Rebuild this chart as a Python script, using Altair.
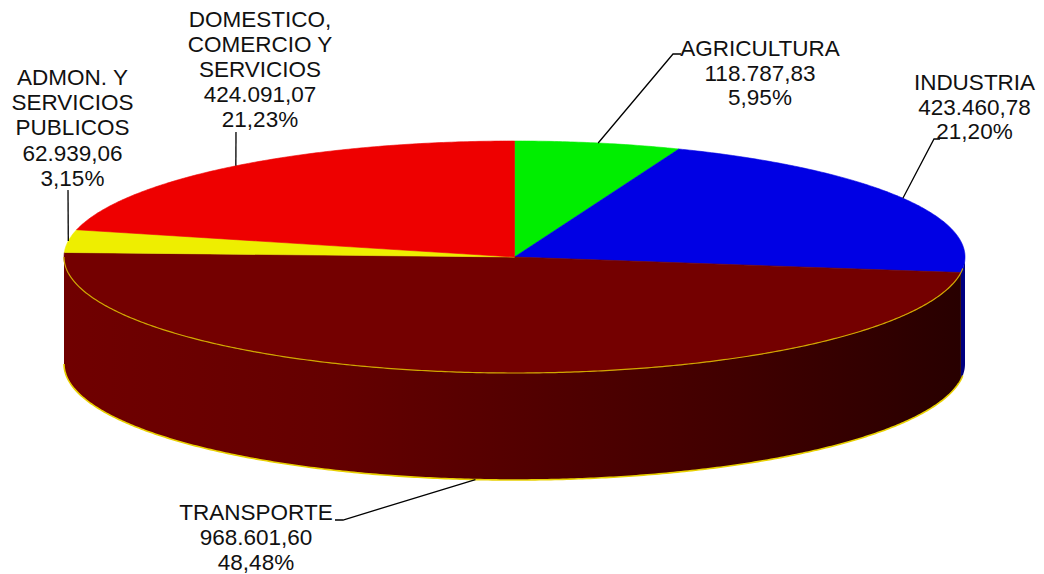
import math
import altair as alt
import pandas as pd

# ---- data
names = ["AGRICULTURA", "INDUSTRIA", "TRANSPORTE", "ADMON. Y SERVICIOS PUBLICOS", "DOMESTICO, COMERCIO Y SERVICIOS"]
values = [118787.83, 423460.78, 968601.60, 62939.06, 424091.07]
top_colors = ["#00ee00", "#0000e4", "#740000", "#eeee00", "#ee0000"]
label_lines = [
    ["AGRICULTURA", "118.787,83", "5,95%"],
    ["INDUSTRIA", "423.460,78", "21,20%"],
    ["TRANSPORTE", "968.601,60", "48,48%"],
    ["ADMON. Y", "SERVICIOS", "PUBLICOS", "62.939,06", "3,15%"],
    ["DOMESTICO,", "COMERCIO Y", "SERVICIOS", "424.091,07", "21,23%"],
]

# ---- layout (page pixels)
CX, CY, RX, RY, DEPTH = 514.5, 257.0, 450.5, 116.0, 107.0
label_x = [760, 974.5, 256, 72.5, 260]
label_y = [56, 90, 520, 85, 27]
line_step = [24.7, 24.7, 25, 25.2, 25]
leader_mid = [(673, 54), (934, 139), (343, 520), None, None]
leader_end = [(681, 54), (940, 139), (335, 520), (68, 190), (236, 132)]
W, H = 1028, 566

total = sum(values)
edges = [0.0]
for v in values:
    edges.append(edges[-1] + v / total * 360)


def pt(deg, drop=0.0):
    a = math.radians(deg)
    return CX + RX * math.sin(a), CY - RY * math.cos(a) + drop


def arc(a0, a1, drop=0.0):
    n = max(2, int(abs(a1 - a0) * 2))
    return [pt(a0 + (a1 - a0) * i / n, drop) for i in range(n + 1)]


xs = alt.Scale(domain=[8, 8 + W], range=[0, W], nice=False, zero=False)
ys = alt.Scale(domain=[8, 8 + H], range=[0, H], nice=False, zero=False)
X = alt.X("x:Q", scale=xs, axis=None)
Y = alt.Y("y:Q", scale=ys, axis=None, stack=None)


def path_df(points):
    return pd.DataFrame([{"x": p[0], "y": p[1], "o": i} for i, p in enumerate(points)])


def wall(a0, a1, fill):
    rows = []
    for (x, y) in arc(a0, a1):
        rows.append({"x": x, "y": y, "y2": y + DEPTH})
    return alt.Chart(pd.DataFrame(rows)).mark_area(color=fill, interpolate="linear", orient="vertical").encode(
        x=X, y=Y, y2="y2:Q"
    )


shade = alt.Gradient(
    gradient="linear", x1=0, y1=0, x2=1, y2=0,
    stops=[
        alt.GradientStop(offset=0, color="#700000"),
        alt.GradientStop(offset=0.3, color="#640000"),
        alt.GradientStop(offset=0.5, color="#540000"),
        alt.GradientStop(offset=0.75, color="#400000"),
        alt.GradientStop(offset=1, color="#280000"),
    ],
)

layers = [wall(90, edges[2], "#000080"), wall(edges[2], 270, shade)]

# top face: one filled outline per slice
for i in range(len(values)):
    pts = [(CX, CY)] + arc(edges[i], edges[i + 1]) + [(CX, CY)]
    layers.append(
        alt.Chart(path_df(pts))
        .mark_line(fill=top_colors[i], stroke=top_colors[i], strokeWidth=0.6, interpolate="linear")
        .encode(x=X, y=Y, order="o:Q")
    )

# thin bright rims of the transport slice
for drop, col, w in [(0, "#d0a800", 1.2), (DEPTH, "#e8d000", 1.6)]:
    layers.append(
        alt.Chart(path_df(arc(edges[2] - 2, 270, drop)))
        .mark_line(stroke=col, strokeWidth=w, interpolate="linear")
        .encode(x=X, y=Y, order="o:Q")
    )

# leader lines start at each slice's middle angle
for i in range(len(values)):
    mid = (edges[i] + edges[i + 1]) / 2
    drop = DEPTH if 90 < mid < 270 else 0
    pts = [pt(mid, drop)]
    if leader_mid[i]:
        pts.append(leader_mid[i])
    pts.append(leader_end[i])
    layers.append(
        alt.Chart(path_df(pts))
        .mark_line(stroke="#000000", strokeWidth=1.3, interpolate="linear")
        .encode(x=X, y=Y, order="o:Q")
    )

rows = []
for i, lines in enumerate(label_lines):
    for j, t in enumerate(lines):
        rows.append({"x": label_x[i], "y": label_y[i] + j * line_step[i], "t": t})
layers.append(
    alt.Chart(pd.DataFrame(rows))
    .mark_text(font="Liberation Sans", fontSize=22.5, color="#111111", align="center", baseline="alphabetic")
    .encode(x=X, y=Y, text="t:N")
)

chart = (
    alt.layer(*layers)
    .properties(width=W, height=H, padding=0, autosize=alt.AutoSizeParams(type="none"), background="white")
    .configure_view(stroke=None)
)
chart.save("out.html", embed_options={"renderer": "svg", "actions": False})
